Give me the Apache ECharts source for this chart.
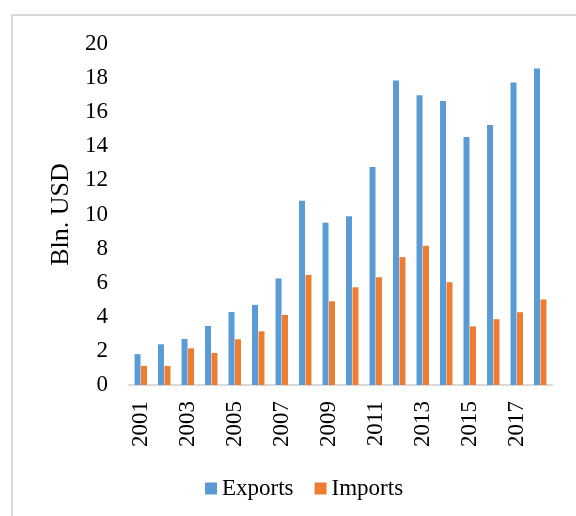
<!DOCTYPE html>
<html>
<head>
<meta charset="utf-8">
<script src="https://cdn.jsdelivr.net/npm/echarts@6/dist/echarts.min.js"></script>
<style>
  html, body { margin: 0; padding: 0; background: #fff; }
  #chart { width: 576px; height: 516px; }
</style>
</head>
<body>
<div id="chart"></div>
<script>
// Annual trade, billions of US dollars
const years = ['2001','2002','2003','2004','2005','2006','2007','2008','2009',
               '2010','2011','2012','2013','2014','2015','2016','2017','2018'];
const exportsBln = [1.81, 2.39, 2.70, 3.46, 4.28, 4.70, 6.25, 10.80, 9.52,
                    9.90, 12.78, 17.86, 17.00, 16.65, 14.54, 15.25, 17.74, 18.57];
const importsBln = [1.12, 1.12, 2.15, 1.88, 2.68, 3.15, 4.11, 6.46, 4.91,
                    5.73, 6.32, 7.50, 8.16, 6.03, 3.44, 3.86, 4.27, 5.02];
const yTicks = { min: 0, max: 20, interval: 2 };

const serif = '"Liberation Serif", "Times New Roman", serif';

const chart = echarts.init(document.getElementById('chart'), null, { renderer: 'canvas' });
chart.setOption({
  backgroundColor: '#ffffff',
  animation: false,
  graphic: [{
    type: 'rect',
    shape: { x: 12, y: 15, width: 620, height: 620 },
    style: { fill: 'none', stroke: '#d9d9d9', lineWidth: 2 },
    silent: true
  }],
  grid: { left: 129, right: 24, top: 44, bottom: 131, containLabel: false },
  legend: {
    data: ['Exports', 'Imports'],
    left: 200,
    top: 472,
    icon: 'rect',
    itemWidth: 12,
    itemHeight: 12,
    itemGap: 21,
    textStyle: { fontFamily: serif, fontSize: 23, color: '#000' }
  },
  xAxis: {
    type: 'category',
    data: years,
    axisLine: { show: true, lineStyle: { color: '#d9d9d9', width: 2 } },
    axisTick: { show: false },
    axisLabel: {
      interval: 1,
      rotate: 90,
      margin: 16,
      fontFamily: serif,
      fontSize: 23,
      color: '#000'
    },
    splitLine: { show: false }
  },
  yAxis: {
    type: 'value',
    min: yTicks.min,
    max: yTicks.max,
    interval: yTicks.interval,
    name: 'Bln. USD',
    nameLocation: 'middle',
    nameRotate: 90,
    nameGap: 49,
    nameTextStyle: { fontFamily: serif, fontSize: 26, color: '#000' },
    axisLine: { show: false },
    axisTick: { show: false },
    splitLine: { show: false },
    axisLabel: { margin: 21, fontFamily: serif, fontSize: 23, color: '#000' }
  },
  series: [
    {
      name: 'Exports',
      type: 'bar',
      data: exportsBln,
      barCategoryGap: '47%',
      barGap: '8%',
      itemStyle: { color: '#5b9bd5' }
    },
    {
      name: 'Imports',
      type: 'bar',
      data: importsBln,
      barCategoryGap: '47%',
      barGap: '8%',
      itemStyle: { color: '#ed7d31' }
    }
  ]
});
</script>
</body>
</html>
